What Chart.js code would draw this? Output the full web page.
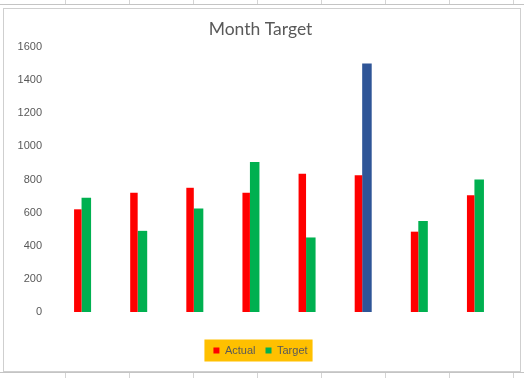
<!DOCTYPE html>
<html>
<head>
<meta charset="utf-8">
<title>Month Target</title>
<script src="https://cdn.jsdelivr.net/npm/chart.js@4/dist/chart.umd.min.js"></script>
<style>
    html, body {
        margin: 0;
        padding: 0;
        background: #fff;
    }
    body {
        position: relative;
        width: 524px;
        height: 378px;
        overflow: hidden;
    }
    .sheet-line-h {
        position: absolute;
        left: 0;
        width: 524px;
        height: 1px;
        background: #c4c4c4;
    }
    .sheet-line-v {
        position: absolute;
        width: 1px;
        background: #d4d4d4;
    }
    .chart-frame {
        position: absolute;
        left: 3px;
        top: 8px;
        width: 516px;
        height: 362px;
        border: 1px solid #cfcfcf;
        background: #fff;
    }
    .chart-frame canvas {
        display: block;
    }
</style>
</head>
<body>
<div class="sheet-line-h" style="top:4px"></div>
<div class="sheet-line-h" style="top:372px"></div>
<div id="sheetLines"></div>
<div class="chart-frame">
    <canvas id="monthTargetChart" width="516" height="362"></canvas>
</div>

<script>
const categories = ['1', '2', '3', '4', '5', '6', '7', '8'];
const actualValues = [620, 720, 750, 720, 835, 825, 485, 705];
const targetValues = [690, 490, 625, 905, 450, 1500, 550, 800];
const targetColors = ['#00b050', '#00b050', '#00b050', '#00b050', '#00b050', '#2f5597', '#00b050', '#00b050'];
const yTicks = [0, 200, 400, 600, 800, 1000, 1200, 1400, 1600];

function drawSheetLines() {
    const holder = document.getElementById('sheetLines');
    [65, 129, 193, 257, 321, 385, 449, 513].forEach(function(x) {
        const top = document.createElement('div');
        top.className = 'sheet-line-v';
        top.style.left = x + 'px';
        top.style.top = '0px';
        top.style.height = '4px';
        holder.appendChild(top);

        const bottom = document.createElement('div');
        bottom.className = 'sheet-line-v';
        bottom.style.left = x + 'px';
        bottom.style.top = '373px';
        bottom.style.height = '5px';
        holder.appendChild(bottom);
    });
}

// orange box behind the legend, like the Excel legend fill
const legendFill = {
    id: 'legendFill',
    beforeDraw: function(chart) {
        const boxes = chart.legend && chart.legend.legendHitBoxes;
        if (!boxes || !boxes.length) return;
        const first = boxes[0];
        const last = boxes[boxes.length - 1];
        const midY = first.top + first.height / 2;
        const ctx = chart.ctx;
        ctx.save();
        ctx.fillStyle = '#ffc000';
        ctx.fillRect(first.left - 9, midY - 11, (last.left + last.width + 5) - (first.left - 9), 22);
        ctx.restore();
    }
};

function initMonthTargetChart() {
    const canvas = document.getElementById('monthTargetChart');
    if (!canvas || typeof Chart === 'undefined') return;

    const textColor = '#595959';

    const data = {
        labels: categories,
        datasets: [{
            label: 'Actual',
            data: actualValues,
            backgroundColor: '#ff0000',
            borderWidth: 0,
            categoryPercentage: 0.303,
            barPercentage: 0.88
        }, {
            label: 'Target',
            data: targetValues,
            backgroundColor: targetColors,
            borderWidth: 0,
            categoryPercentage: 0.303,
            barPercentage: 1.12
        }]
    };

    const config = {
        type: 'bar',
        data: data,
        plugins: [legendFill],
        options: {
            responsive: false,
            animation: false,
            layout: {
                padding: { left: 7, right: 10, top: 0, bottom: 5 }
            },
            scales: {
                x: {
                    grid: { display: false, drawTicks: false },
                    border: { display: false },
                    ticks: { display: false },
                    afterFit: function(scale) {
                        scale.height = 23;
                    }
                },
                y: {
                    min: 0,
                    max: 1600,
                    grid: { display: false, drawTicks: false },
                    border: { display: false },
                    afterBuildTicks: function(scale) {
                        scale.ticks = yTicks.map(function(v) { return { value: v }; });
                    },
                    ticks: {
                        color: textColor,
                        padding: 12,
                        font: { family: "'Liberation Sans', Arial, sans-serif", size: 11 },
                        callback: function(value) {
                            return String(value);
                        }
                    },
                    afterFit: function(scale) {
                        scale.width = 43;
                    }
                },
                // empty right axis, only to keep the plot narrower than the title box
                yRight: {
                    position: 'right',
                    min: 0,
                    max: 1600,
                    grid: { display: false, drawTicks: false },
                    border: { display: false },
                    ticks: { display: false },
                    afterFit: function(scale) {
                        scale.width = 7;
                    }
                }
            },
            plugins: {
                title: {
                    display: true,
                    text: 'Month Target',
                    color: textColor,
                    font: { family: "Lato, 'Open Sans', sans-serif", size: 17.5, weight: 'normal' },
                    padding: { top: 10, bottom: 7 }
                },
                legend: {
                    position: 'bottom',
                    labels: {
                        color: textColor,
                        boxWidth: 6,
                        boxHeight: 6,
                        padding: 10,
                        font: { family: "'Liberation Sans', Arial, sans-serif", size: 11 }
                    }
                },
                tooltip: { enabled: false }
            }
        }
    };

    window.monthTargetChartInstance = new Chart(canvas, config);
}

drawSheetLines();
initMonthTargetChart();
</script>
</body>
</html>
